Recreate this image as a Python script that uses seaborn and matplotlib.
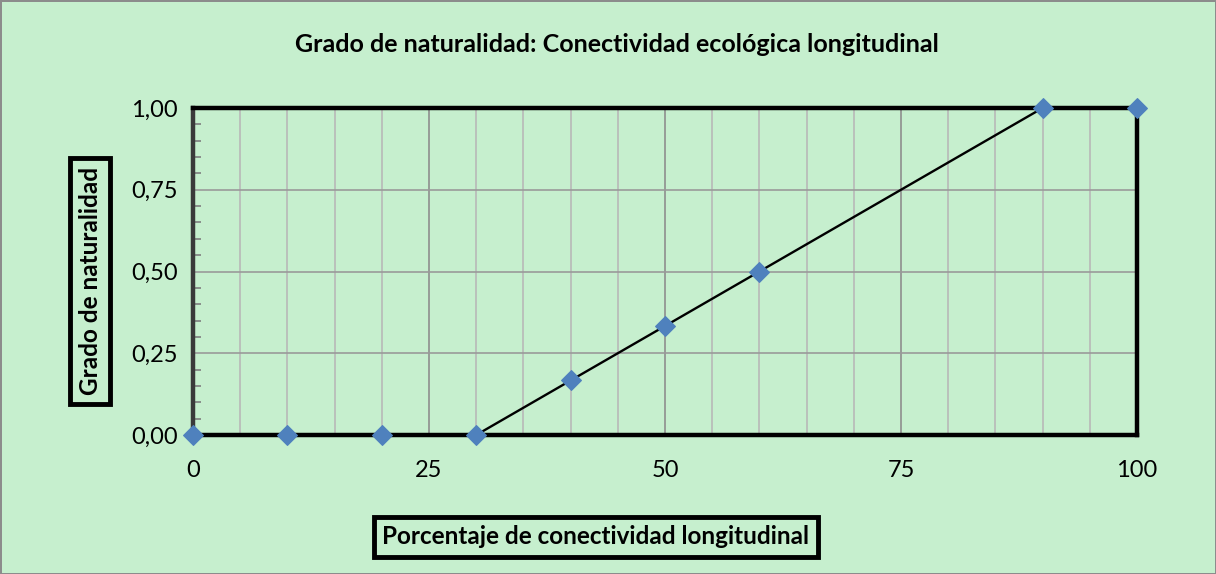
import matplotlib
matplotlib.use("Agg")
import matplotlib.pyplot as plt
import seaborn as sns
import numpy as np
import pandas as pd
from matplotlib.ticker import MultipleLocator

sns.set_theme(style="white")
plt.rcParams['font.family'] = ['Lato', 'DejaVu Sans']

# Data
conectividad = [0, 10, 20, 30, 40, 50, 60, 90, 100]
grado = [0.0, 0.0, 0.0, 0.0, 0.1667, 0.3333, 0.5, 1.0, 1.0]
x_ticks = [0, 25, 50, 75, 100]
y_ticks = [0.0, 0.25, 0.5, 0.75, 1.0]
y_tick_labels = ["0,00", "0,25", "0,50", "0,75", "1,00"]
title = "Grado de naturalidad: Conectividad ecológica longitudinal"
xlabel = "Porcentaje de conectividad longitudinal"
ylabel = "Grado de naturalidad"

bg = "#C6EFCE"
df = pd.DataFrame({"x": conectividad, "y": grado})

fig = plt.figure(figsize=(12.16, 5.74), dpi=100)
fig.patch.set_facecolor(bg)
fig.patch.set_edgecolor("#8C8C8C")
fig.patch.set_linewidth(2)

ax = fig.add_axes([193/1216, 1 - 435/574, (1137-193)/1216, (435-108)/574])
ax.set_facecolor(bg)

# grid
ax.set_xlim(0, 100)
ax.set_ylim(0, 1)
ax.xaxis.set_minor_locator(MultipleLocator(5))
ax.yaxis.set_minor_locator(MultipleLocator(0.05))
ax.set_xticks(x_ticks)
ax.set_yticks(y_ticks)
ax.set_yticklabels(y_tick_labels)
ax.grid(which="minor", axis="x", color="#B8B8B8", linewidth=1.2)
ax.grid(which="major", axis="x", color="#8E8E8E", linewidth=1.2)
ax.grid(which="major", axis="y", color="#9A9A9A", linewidth=1.2)
ax.set_axisbelow(True)

sns.lineplot(data=df, x="x", y="y", ax=ax, color="black", linewidth=1.7,
             marker="D", markersize=10.5, markerfacecolor="#4F81BD",
             markeredgecolor="#4F81BD", clip_on=False, zorder=5)

for side in ["top", "right", "bottom"]:
    ax.spines[side].set_color("black")
    ax.spines[side].set_linewidth(3.2)
ax.spines["left"].set_color("#3A3A3A")
ax.spines["left"].set_linewidth(3.2)

ax.tick_params(axis="y", which="minor", direction="in", length=6, width=1.2,
               color="#7F7F7F", left=True)
ax.tick_params(axis="y", which="major", direction="in", length=0, labelsize=17,
               pad=11, labelcolor="black")
ax.tick_params(axis="x", which="both", length=0, labelsize=17, pad=18,
               labelcolor="black")
ax.set_xlabel("")
ax.set_ylabel("")

fig.text(617/1216, 1 - 44/574, title, ha="center", va="center",
         fontsize=18, fontweight="bold", color="black")

fig.text(596/1216, 1 - 537/574, xlabel, ha="center", va="center",
         fontsize=17.5, fontweight="bold", color="black",
         bbox=dict(boxstyle="square,pad=0.35", facecolor=bg,
                   edgecolor="black", linewidth=3.5))
fig.text(90/1216, 1 - 281/574, ylabel, ha="center", va="center",
         rotation=90, fontsize=17.5, fontweight="bold", color="black",
         bbox=dict(boxstyle="square,pad=0.35", facecolor=bg,
                   edgecolor="black", linewidth=3.5))

fig.savefig("out.png", dpi=100, facecolor=bg, edgecolor="#8C8C8C")
